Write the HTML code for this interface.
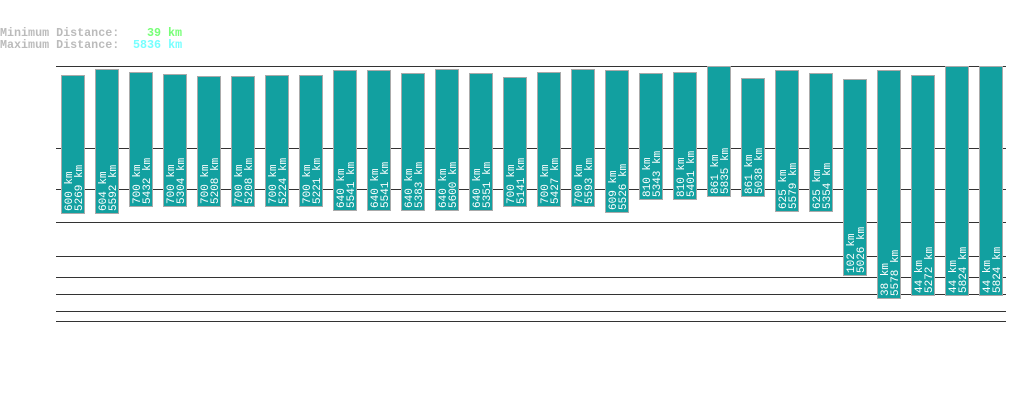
<!DOCTYPE html>
<html><head><meta charset="utf-8"><style>
html,body{margin:0;padding:0;background:#fff;width:1019px;height:402px;overflow:hidden}
svg{display:block}
text{font-family:"Liberation Mono","DejaVu Sans Mono",monospace}
</style></head><body>
<svg width="1019" height="402" xmlns="http://www.w3.org/2000/svg">
<text x="0" y="36" font-size="11.7" fill="#bbb" font-weight="bold">Minimum Distance:</text>
<text x="147" y="36" font-size="11.7" fill="#77ff77" font-weight="bold">39 km</text>
<text x="0" y="48" font-size="11.7" fill="#bbb" font-weight="bold">Maximum Distance:</text>
<text x="133" y="48" font-size="11.7" fill="#77ffff" font-weight="bold">5836 km</text>
<g stroke="#333" stroke-width="1">
<line x1="56" x2="1006" y1="66.5" y2="66.5"/>
<line x1="56" x2="1006" y1="148.5" y2="148.5"/>
<line x1="56" x2="1006" y1="189.5" y2="189.5"/>
<line x1="56" x2="1006" y1="222.5" y2="222.5"/>
<line x1="56" x2="1006" y1="256.5" y2="256.5"/>
<line x1="56" x2="1006" y1="277.5" y2="277.5"/>
<line x1="56" x2="1006" y1="294.5" y2="294.5"/>
<line x1="56" x2="1006" y1="311.5" y2="311.5"/>
<line x1="56" x2="1006" y1="321.5" y2="321.5"/>
</g>
<g id="bars"></g>
</svg>
<script>
var d=[[75,214,"600","5269"],[69,214,"604","5592"],[72,207,"700","5432"],[74,207,"700","5304"],[76,207,"700","5208"],[76,207,"700","5208"],[75,207,"700","5224"],[75,207,"700","5221"],[70,211,"640","5541"],[70,211,"640","5541"],[73,211,"640","5383"],[69,211,"640","5600"],[73,211,"640","5351"],[77,207,"700","5141"],[72,207,"700","5427"],[69,207,"700","5593"],[70,213,"609","5526"],[73,200,"810","5343"],[72,200,"810","5401"],[66,197,"861","5835"],[78,197,"861","5038"],[70,212,"625","5579"],[73,212,"625","5354"],[79,276,"102","5026"],[70,299,"38","5578"],[75,296,"44","5272"],[66,296,"44","5824"],[66,296,"44","5824"]];
var g=document.getElementById("bars"),h="";
d.forEach(function(b,i){var x=61+i*34;
h+='<rect x="'+(x+0.5)+'" y="'+(b[0]+0.5)+'" width="23" height="'+(b[1]-b[0]-1)+'" fill="#12a0a0" stroke="#aaa" stroke-width="1"/>';
var y=b[1]-3;
h+='<text transform="translate('+(x+11)+','+y+') rotate(-90)" font-size="11" fill="#fff">'+b[2]+' km</text>';
h+='<text transform="translate('+(x+21)+','+y+') rotate(-90)" font-size="11" fill="#fff">'+b[3]+' km</text>';});
g.innerHTML=h;
</script>
</body></html>
